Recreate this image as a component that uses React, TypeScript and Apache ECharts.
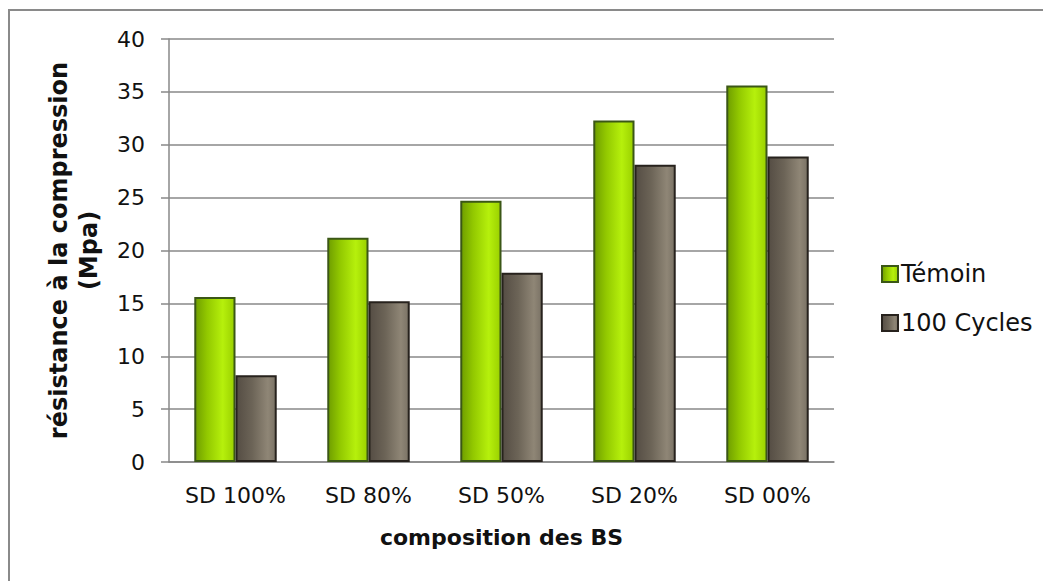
import React, { useEffect, useRef } from "react";
import * as echarts from "echarts";

const categories = ["SD 100%", "SD 80%", "SD 50%", "SD 20%", "SD 00%"];
const temoin = [15.6, 21.2, 24.7, 32.3, 35.6];
const cycles100 = [8.2, 15.2, 17.9, 28.1, 28.9];
const seriesNames = ["Témoin", "100 Cycles"];
const yTicks = { min: 0, max: 40, interval: 5 };

const FONT = "DejaVu Sans";

export default function App() {
  const ref = useRef<HTMLDivElement>(null);
  useEffect(() => {
    if (!ref.current) return;
    const chart = echarts.init(ref.current, undefined, { renderer: "svg" });
    const green = new echarts.graphic.LinearGradient(0, 0, 1, 0, [
      { offset: 0, color: "#6f9e00" },
      { offset: 0.3, color: "#92c800" },
      { offset: 0.7, color: "#b6f00c" },
      { offset: 1, color: "#9ad000" },
    ]);
    const brown = new echarts.graphic.LinearGradient(0, 0, 1, 0, [
      { offset: 0, color: "#554d44" },
      { offset: 0.4, color: "#6c6457" },
      { offset: 0.8, color: "#8f8676" },
      { offset: 1, color: "#7a7265" },
    ]);
    chart.setOption({
      animation: false,
      backgroundColor: "#ffffff",
      textStyle: { fontFamily: FONT },
      graphic: [
        {
          type: "rect",
          shape: { x: 1, y: 2, width: 1200, height: 800 },
          style: { fill: "none", stroke: "#8a8a8a", lineWidth: 2 },
          silent: true,
        },
      ],
      grid: { left: 161, right: 217, top: 31, bottom: 119 },
      legend: {
        orient: "vertical",
        left: 868,
        top: 249,
        itemWidth: 16,
        itemHeight: 16,
        itemGap: 25,
        icon: "rect",
        data: seriesNames,
        textStyle: { fontFamily: FONT, fontSize: 24, color: "#111", padding: [0, 0, 0, -2] },
      },
      xAxis: {
        type: "category",
        data: categories,
        name: "composition des BS",
        nameLocation: "middle",
        nameGap: 64,
        nameTextStyle: { fontFamily: FONT, fontSize: 22, fontWeight: "bold", color: "#111" },
        axisLine: { lineStyle: { color: "#888", width: 1.5 } },
        axisTick: { show: false },
        axisLabel: { fontFamily: FONT, fontSize: 22, color: "#111", margin: 22 },
      },
      yAxis: {
        type: "value",
        min: yTicks.min,
        max: yTicks.max,
        interval: yTicks.interval,
        name: "résistance à la compression\n(Mpa)",
        nameLocation: "middle",
        nameRotate: 90,
        nameGap: 65,
        nameTextStyle: {
          fontFamily: FONT,
          fontSize: 24,
          fontWeight: "bold",
          color: "#111",
          lineHeight: 30,
          align: "center",
        },
        axisLine: { show: true, lineStyle: { color: "#888", width: 1.5 } },
        axisTick: { show: true, inside: false, length: 8, lineStyle: { color: "#888", width: 1.5 } },
        axisLabel: { fontFamily: FONT, fontSize: 22, color: "#111", margin: 24 },
        splitLine: { lineStyle: { color: "#888", width: 1.5 } },
      },
      series: [
        {
          name: seriesNames[0],
          type: "bar",
          data: temoin,
          barGap: "0%",
          barCategoryGap: "38%",
          itemStyle: { color: green, borderColor: "#3b5716", borderWidth: 2 },
        },
        {
          name: seriesNames[1],
          type: "bar",
          data: cycles100,
          itemStyle: { color: brown, borderColor: "#27221d", borderWidth: 2 },
        },
      ],
    });
    return () => chart.dispose();
  }, []);
  return <div ref={ref} style={{ width: 1043, height: 573 }} />;
}
